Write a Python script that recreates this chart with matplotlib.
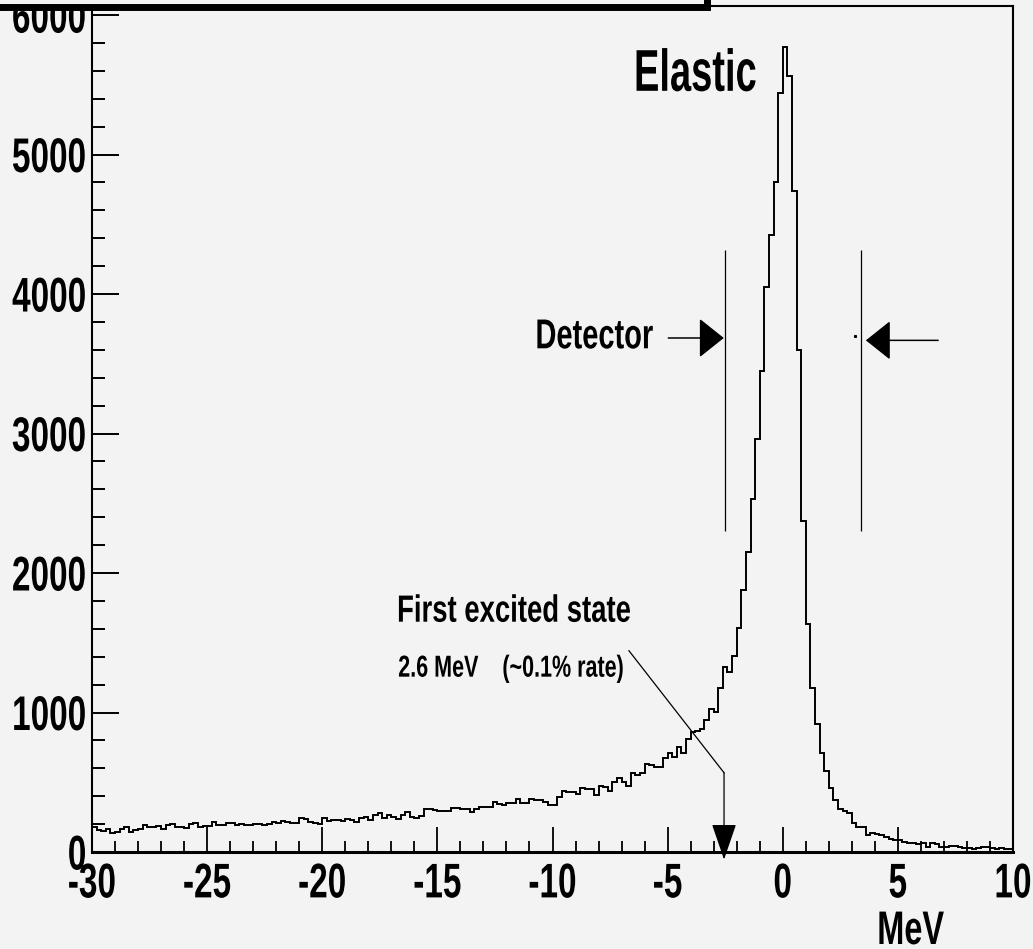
import numpy as np
import matplotlib
matplotlib.use('Agg')
import matplotlib.pyplot as plt
from matplotlib import patheffects
from matplotlib.transforms import Affine2D
from matplotlib.ticker import MultipleLocator
from matplotlib.patches import Rectangle

'''
Missing energy spectrum, elastic peak with the detector acceptance
'''

# 200 bins of 0.2 MeV from -30 to 10 MeV
edges = np.linspace(-30, 10, 201)
counts = [
    177, 158, 150, 163, 138, 145, 165, 180, 140, 160,
    162, 190, 177, 177, 185, 165, 190, 200, 178, 180,
    172, 200, 208, 182, 184, 186, 213, 194, 190, 205,
    205, 190, 200, 194, 196, 198, 200, 192, 200, 218,
    205, 225, 215, 205, 205, 243, 233, 217, 210, 203,
    243, 222, 227, 227, 222, 233, 232, 217, 241, 250,
    227, 265, 277, 245, 262, 250, 237, 262, 289, 250,
    245, 255, 306, 308, 298, 296, 294, 294, 315, 313,
    311, 310, 290, 306, 320, 320, 320, 356, 343, 334,
    350, 354, 380, 349, 349, 380, 373, 373, 361, 337,
    337, 396, 440, 432, 432, 416, 456, 449, 449, 409,
    475, 468, 440, 504, 528, 504, 475, 569, 552, 564,
    631, 621, 607, 612, 672, 707, 683, 755, 712, 808,
    862, 870, 884, 946, 1025, 1006, 1178, 1329, 1288, 1407,
    1604, 1876, 2148, 2530, 2958, 3450, 4048, 4423, 4805, 5443,
    5773, 5565, 4738, 3599, 2375, 1634, 1178, 915, 712, 583,
    461, 373, 308, 294, 282, 210, 177, 182, 122, 134,
    129, 122, 105, 91, 86, 86, 70, 67, 62, 55,
    62, 38, 67, 57, 38, 38, 45, 45, 38, 31,
    26, 21, 31, 38, 38, 26, 19, 26, 24, 19,
]

xticks = [-30, -25, -20, -15, -10, -5, 0, 5, 10]
yticks = [0, 1000, 2000, 3000, 4000, 5000, 6000]

detector_edges = [-2.5, 3.42]
detector_span = [2300, 4315]
left_arrow = [(-4.97, 3685), (-2.56, 3685)]
right_arrow = [(6.75, 3668), (3.61, 3668)]
excited_line = [(-6.68, 1443), (-2.55, 568)]
excited_tip = (-2.55, -54)

BG = '#f3f3f3'
FONT = 'Liberation Sans'


class Tall(patheffects.AbstractPathEffect):
    '''stretch the glyphs vertically, like the narrow ROOT font'''
    def __init__(self, sy=1.45, about=0.0):
        super().__init__()
        self.sy = sy
        self.about = about

    def draw_path(self, renderer, gc, tpath, affine, rgbFace=None):
        stretch = Affine2D().translate(0, -self.about).scale(1, self.sy).translate(0, self.about)
        renderer.draw_path(gc, tpath, stretch + affine, rgbFace)


plt.rcParams['axes.unicode_minus'] = False
plt.rcParams['font.family'] = [FONT, 'DejaVu Sans']

fig = plt.figure(figsize=(10.33, 9.49), dpi=100, facecolor=BG)
ax = fig.add_axes([92 / 1033, 97 / 949, 921 / 1033, 846 / 949])
ax.set_facecolor(BG)

ax.stairs(counts, edges, baseline=None, color='black', lw=1.4)

ax.set_xlim(-30, 10)
ax.set_ylim(0, 6065)
ax.set_xticks(xticks, labels=[str(v) for v in xticks])
ax.set_yticks(yticks, labels=[str(v) for v in yticks])
ax.xaxis.set_minor_locator(MultipleLocator(1))
ax.yaxis.set_minor_locator(MultipleLocator(200))

ax.tick_params(axis='x', which='major', direction='in', length=17.8, width=1.3, pad=7.5,
               labelsize=24)
ax.tick_params(axis='x', which='minor', direction='in', length=8, width=1.3)
ax.tick_params(axis='y', which='major', direction='in', length=19.4, width=1.4, pad=4,
               labelsize=24)
ax.tick_params(axis='y', which='minor', direction='in', length=9.4, width=1.4)

for t in ax.get_xticklabels():
    t.set_fontweight('bold')
    t.set_path_effects([Tall(1.46, 71.6)])
for t in ax.get_yticklabels():
    t.set_fontweight('bold')
    t.set_path_effects([Tall(1.46, 35.8)])

ax.spines['left'].set_linewidth(1.5)
ax.spines['bottom'].set_linewidth(2.2)
ax.spines['top'].set_linewidth(1.5)
ax.spines['right'].set_linewidth(1.5)

# detector acceptance
ax.vlines(detector_edges, detector_span[0], detector_span[1], color='black', lw=0.9)
for tail, tip in [left_arrow, right_arrow]:
    ax.annotate('', xy=tip, xytext=tail,
                arrowprops=dict(arrowstyle='-|>,head_length=1.58,head_width=1.26',
                                mutation_scale=10, color='black', lw=1.1,
                                shrinkA=0, shrinkB=0))
ax.plot([3.14], [3699], marker='s', ms=1.2, color='black')

# first excited state pointer
ax.plot([p[0] for p in excited_line], [p[1] for p in excited_line], color='black', lw=0.9)
ax.annotate('', xy=excited_tip, xytext=excited_line[1], annotation_clip=False,
            arrowprops=dict(arrowstyle='-|>,head_length=2.3,head_width=0.79',
                            mutation_scale=10, color='black', lw=0.9,
                            shrinkA=0, shrinkB=0, clip_on=False))

ax.text(-6.46, 5457, 'Elastic', fontsize=27.4, fontweight='bold', va='baseline',
        path_effects=[Tall(1.55)])
ax.text(-10.74, 3611, 'Detector', fontsize=20.9, fontweight='bold', va='baseline',
        path_effects=[Tall(1.44)])
ax.text(-16.75, 1651, 'First excited state', fontsize=19.8, fontweight='bold',
        va='baseline', path_effects=[Tall(1.38)])
ax.text(-16.7, 1257, '2.6 MeV    (~0.1% rate)', fontsize=15.5, fontweight='bold',
        va='baseline', path_effects=[Tall(1.41)])

fig.text(944 / 1033, 5 / 949, 'MeV', fontsize=23.4, fontweight='bold',
         ha='right', va='baseline', path_effects=[Tall(1.45)])

# title box, mostly off the top of the picture
fig.add_artist(Rectangle((-0.02, (949 - 6.5) / 949), 0.02 + 706.5 / 1033, 0.05,
                         transform=fig.transFigure, facecolor=BG, edgecolor='black',
                         lw=5))

fig.savefig('out.png', dpi=100, facecolor=BG)
